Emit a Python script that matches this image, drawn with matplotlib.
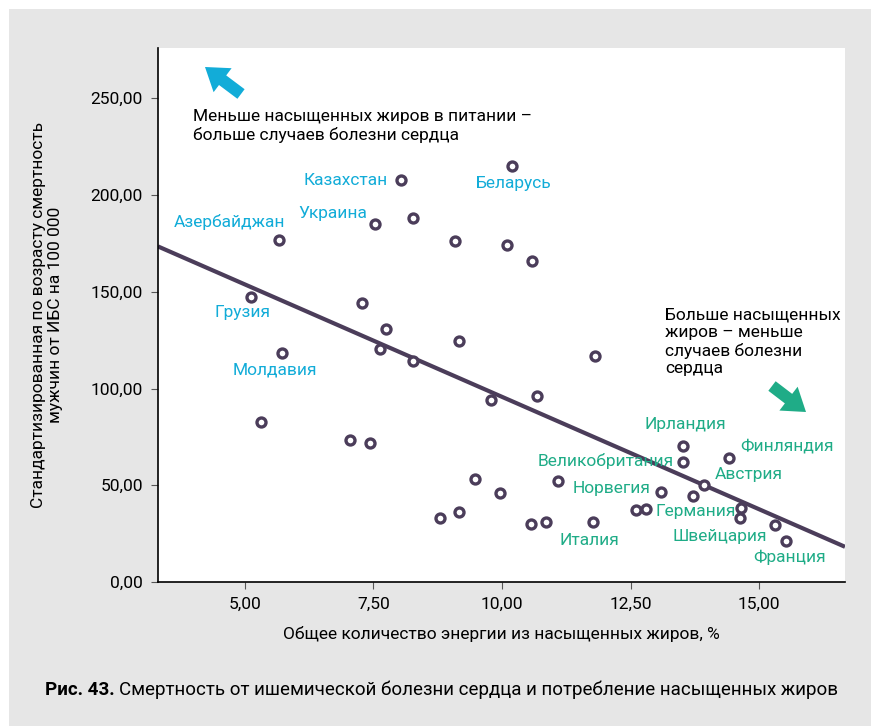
import matplotlib
matplotlib.use('Agg')
from matplotlib import pyplot as plt
from matplotlib.ticker import FuncFormatter, MultipleLocator
from matplotlib.patches import Rectangle, FancyArrow
from matplotlib.transforms import IdentityTransform

plt.rcParams['font.family'] = ['Roboto', 'DejaVu Sans']

# saturated fat share of energy (%) vs age-standardised IHD mortality in men per 100 000
fat_pct = [5.66, 5.12, 5.72, 5.31, 8.03, 7.53, 8.27, 10.19, 9.09, 10.10, 10.58,
           7.28, 7.74, 7.63, 8.27, 9.16, 9.79, 10.68, 11.81, 7.04, 7.43, 9.47,
           9.96, 8.79, 9.16, 10.56, 10.86, 11.09, 11.77, 13.52, 13.52, 14.42,
           13.93, 13.09, 13.72, 12.61, 12.80, 14.65, 14.63, 15.31, 15.53]
mortality = [177.0, 147.5, 118.5, 82.8, 208.0, 185.0, 188.0, 215.0, 176.5, 174.0, 166.0,
             144.0, 131.0, 120.6, 114.4, 124.7, 94.2, 96.3, 117.0, 73.5, 72.0, 53.3,
             46.0, 33.0, 36.0, 30.0, 31.0, 52.3, 31.0, 70.4, 62.0, 64.0,
             50.0, 46.6, 44.5, 37.3, 37.8, 38.3, 33.0, 29.5, 21.2]

# regression line
trend_intercept = 211.9
trend_slope = -11.62

# country labels
east_names = ['Азербайджан', 'Казахстан', 'Беларусь', 'Украина', 'Грузия', 'Молдавия']
east_x = [4.71, 7.78, 9.49, 7.37, 4.96, 5.58]
east_y = [186.3, 207.6, 206.0, 190.5, 139.2, 109.7]
east_ha = ['center', 'right', 'left', 'right', 'center', 'center']

west_names = ['Ирландия', 'Великобритания', 'Финляндия', 'Австрия', 'Норвегия',
              'Германия', 'Италия', 'Швейцария', 'Франция']
west_x = [13.56, 13.33, 14.63, 14.14, 12.88, 12.98, 11.69, 14.24, 15.60]
west_y = [81.3, 62.6, 70.4, 55.4, 48.1, 36.2, 21.7, 23.3, 12.9]
west_ha = ['center', 'right', 'left', 'left', 'right', 'left', 'center', 'center', 'center']

BG = '#e6e6e6'
DOT = '#4b3d5a'
BLUE = '#12acd8'
GREEN = '#1fac87'
H = 726

fig = plt.figure(figsize=(8.71, 7.26), dpi=100)
fig.patch.set_facecolor('white')
fig.patches.append(Rectangle((9 / 871, 0), 1, 1 - 9 / 726, transform=fig.transFigure,
                             facecolor=BG, edgecolor='none', zorder=-10))

ax = fig.add_axes([158 / 871, 1 - 582 / 726, 687 / 871, 534 / 726])
ax.set_facecolor('white')
ax.set_xlim(3.31, 16.67)
ax.set_ylim(0, 276)

xs = [ax.get_xlim()[0], ax.get_xlim()[1]]
ax.plot(xs, [trend_intercept + trend_slope * v for v in xs], color=DOT, lw=3, zorder=2,
        solid_capstyle='butt')
ax.scatter(fat_pct, mortality, s=42, facecolors='white', edgecolors=DOT, linewidths=2.4, zorder=3)

for n, x, y, ha in zip(east_names, east_x, east_y, east_ha):
    ax.text(x, y, n, color=BLUE, fontsize=12.5, ha=ha, va='center')
for n, x, y, ha in zip(west_names, west_x, west_y, west_ha):
    ax.text(x, y, n, color=GREEN, fontsize=12.5, ha=ha, va='center')

fmt = FuncFormatter(lambda v, p: f'{v:.2f}'.replace('.', ','))
ax.xaxis.set_major_locator(MultipleLocator(2.5))
ax.yaxis.set_major_locator(MultipleLocator(50))
ax.xaxis.set_major_formatter(fmt)
ax.yaxis.set_major_formatter(fmt)
ax.tick_params(labelsize=12.5, length=5, width=0.8, color='#555555', pad=6)
for s in ['top', 'right']:
    ax.spines[s].set_visible(False)
for s in ['left', 'bottom']:
    ax.spines[s].set_linewidth(1.2)

ax.set_xlabel('Общее количество энергии из насыщенных жиров, %', fontsize=12.5, labelpad=10)
ax.set_ylabel('Стандартизированная по возрасту смертность\nмужчин от ИБС на 100 000',
              fontsize=12.5, labelpad=20, linespacing=1.1)

fig.text(193 / 871, 1 - 126 / 726, 'Меньше насыщенных жиров в питании –\nбольше случаев болезни сердца',
         fontsize=12.5, va='center', ha='left', linespacing=1.2)
fig.text(665 / 871, 1 - 342 / 726, 'Больше насыщенных\nжиров – меньше\nслучаев болезни\nсердца',
         fontsize=12.5, va='center', ha='left', linespacing=1.2)

# fat arrows drawn in pixel space so they keep their shape
fig.patches.append(FancyArrow(241, H - 94, -36, 27, width=12, head_width=30, head_length=22,
                              length_includes_head=True, transform=IdentityTransform(),
                              color=BLUE, lw=0, figure=fig))
fig.patches.append(FancyArrow(772, H - 386, 34, -26, width=12, head_width=30, head_length=22,
                              length_includes_head=True, transform=IdentityTransform(),
                              color=GREEN, lw=0, figure=fig))

t1 = fig.text(45 / 871, 1 - 690 / 726, 'Рис. 43.', fontsize=13.5, fontweight='bold', va='center')
fig.canvas.draw()
bb = t1.get_window_extent()
fig.text(bb.x1 / fig.bbox.width + 4 / 871, 1 - 690 / 726,
         'Смертность от ишемической болезни сердца и потребление насыщенных жиров',
         fontsize=13.5, va='center')

fig.savefig('out.png', dpi=100, facecolor=fig.get_facecolor())
